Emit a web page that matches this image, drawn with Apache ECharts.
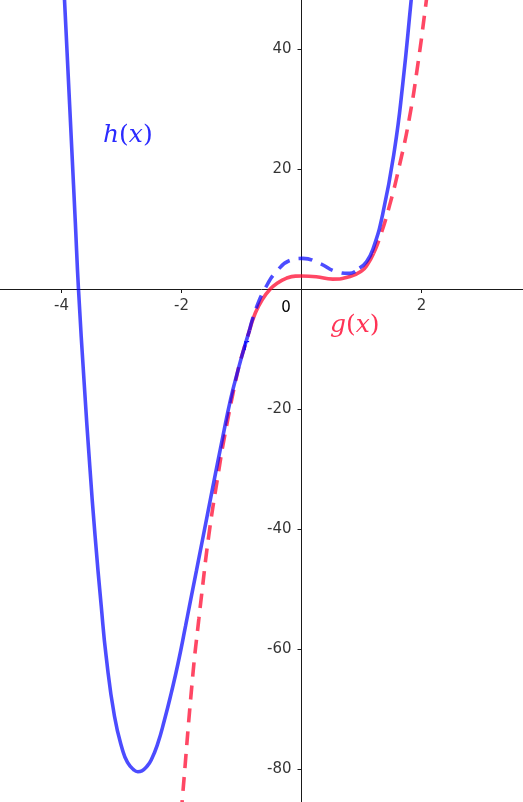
<!DOCTYPE html>
<html><head><meta charset="utf-8">
<script src="https://cdn.jsdelivr.net/npm/echarts@6/dist/echarts.min.js"></script>
<style>html,body{margin:0;padding:0;background:#fff;overflow:hidden}#c{width:523px;height:802px}</style>
</head><body><div id="c"></div>
<script>
// axis tick settings (values)
const xRange = [-6, 4], xStep = 2;
const yRange = [-100, 60], yStep = 20;
const xTickLabels = [-4, -2, 2];
const yTickLabels = [40, 20, -20, -40, -60, -80];

// h(x): solid outer parts, dashed middle part  ([x, y])
const hLeft = [[-3.965, 51], [-3.95, 48.2], [-3.9, 38], [-3.83, 23.6], [-3.77, 11.2], [-3.717, 0],
  [-3.62, -16], [-3.53, -29.3], [-3.44, -41.2], [-3.338, -52.8], [-3.255, -61.3], [-3.117, -71.2],
  [-2.978, -77], [-2.9, -78.9], [-2.8, -80.1], [-2.728, -80.45], [-2.66, -80.3], [-2.58, -79.6],
  [-2.505, -78.5], [-2.4, -75.9], [-2.283, -71.8], [-2.17, -67.3], [-2.06, -62.5], [-1.933, -56.2],
  [-1.867, -52.8], [-1.75, -46.9], [-1.644, -41.5], [-1.48, -33.1], [-1.311, -24.6], [-1.18, -18.3],
  [-1.06, -13.6], [-0.96, -10.0], [-0.867, -6.9]];
const hMid = [[-0.867, -6.9], [-0.77, -3.6], [-0.6, 0.2], [-0.395, 3.17], [-0.17, 4.83], [0.02, 5.1],
  [0.3, 4.28], [0.578, 2.9], [0.8, 2.6], [0.967, 3.5]];
const hRight = [[0.967, 3.5], [1.08, 4.5], [1.19, 6.6], [1.356, 12.6], [1.55, 23.2], [1.689, 34.3],
  [1.828, 48.17], [1.845, 50]];

// g(x): dashed outer parts, solid middle part
const gLeft = [[-2.005, -87.5], [-1.978, -84.05], [-1.81, -64.2], [-1.711, -55.0], [-1.672, -51.6],
  [-1.544, -41.0], [-1.378, -30.2], [-1.283, -24.6], [-1.06, -13.6], [-0.96, -10.0], [-0.867, -6.9]];
const gMid = [[-0.867, -6.9], [-0.77, -4.0], [-0.65, -1.7], [-0.52, 0], [-0.4, 1.0], [-0.256, 1.78],
  [-0.1, 2.15], [0, 2.17], [0.245, 2.05], [0.52, 1.65], [0.8, 2.05], [1.0, 3.0], [1.1, 4.1], [1.2, 5.9]];
const gRight = [[1.2, 5.9], [1.3, 8.4], [1.467, 13.9], [1.633, 20.6], [1.8, 28.6], [1.94, 37.5],
  [2.067, 47], [2.09, 48.9]];

const BLUE = 'rgba(0,0,255,0.7)';
const RED = 'rgba(255,0,40,0.72)';
const AX = '#1a1a1a';
const TICK_TEXT = {fontSize: 15, fontFamily: 'DejaVu Sans', color: '#000'};

function line(data, color, dashed) {
  return {
    type: 'line', data: data, smooth: 0.5, showSymbol: false, symbol: 'none',
    lineStyle: {color: color, width: 3.6, type: dashed ? [14, 9] : 'solid', cap: 'butt'},
    emphasis: {disabled: true}, silent: true, animation: false
  };
}
function axisCommon(range, step) {
  return {
    type: 'value', min: range[0], max: range[1], interval: step,
    axisLine: {onZero: true, lineStyle: {color: AX, width: 1}},
    axisTick: {show: true, length: 4, lineStyle: {color: AX}},
    axisLabel: {show: false},
    splitLine: {show: false}
  };
}
function tickLabelSeries(data, pos, dist, fmt) {
  return {
    type: 'scatter', data: data, symbolSize: 0.01, silent: true, z: 5,
    itemStyle: {color: 'rgba(0,0,0,0)'},
    label: Object.assign({show: true, position: pos, distance: dist, formatter: fmt}, TICK_TEXT),
    emphasis: {disabled: true}
  };
}

const chart = echarts.init(document.getElementById('c'), null, {renderer: 'canvas'});
chart.setOption({
  animation: false,
  backgroundColor: '#fff',
  // grid extends past the canvas so that the visible window is x in [-5.03, 3.68], y in [-85.5, 48.2]
  grid: {left: -58.5, right: -18.5, top: -71, bottom: -87, containLabel: false, outerBoundsMode: 'none'},
  xAxis: axisCommon(xRange, xStep),
  yAxis: axisCommon(yRange, yStep),
  series: [
    line(gLeft, RED, true), line(gMid, RED, false), line(gRight, RED, true),
    line(hLeft, BLUE, false), line(hMid, BLUE, true), line(hRight, BLUE, false),
    tickLabelSeries(xTickLabels.map(v => [v, 0]), 'bottom', 10, p => String(p.value[0])),
    tickLabelSeries(yTickLabels.map(v => [0, v]), 'left', 10, p => String(p.value[1]))
  ],
  graphic: [
    {type: 'text', x: 286, y: 308, style: {text: '0', align: 'center', verticalAlign: 'middle',
      fontSize: 15, fontFamily: 'DejaVu Sans', fill: '#000'}},
    {type: 'text', x: 103, y: 123, style: {
      text: '{i|h}{u|(}{i|x}{u|)}', align: 'left', verticalAlign: 'top',
      rich: {
        i: {fontSize: 25, fontStyle: 'italic', fontFamily: 'DejaVu Serif', fill: '#2b2bff'},
        u: {fontSize: 25, fontFamily: 'DejaVu Serif', fill: '#2b2bff'}
      }}},
    {type: 'text', x: 330, y: 313, style: {
      text: '{i|g}{u|(}{i|x}{u|)}', align: 'left', verticalAlign: 'top',
      rich: {
        i: {fontSize: 25, fontStyle: 'italic', fontFamily: 'DejaVu Serif', fill: '#ff3355'},
        u: {fontSize: 25, fontFamily: 'DejaVu Serif', fill: '#ff3355'}
      }}},
    {type: 'text', x: 246, y: 346, z: 100, zlevel: 1, style: {text: 'r', align: 'center', verticalAlign: 'middle',
      fontSize: 15, fontFamily: 'DejaVu Sans', fill: '#0000ff'}}
  ]
});
</script></body></html>
